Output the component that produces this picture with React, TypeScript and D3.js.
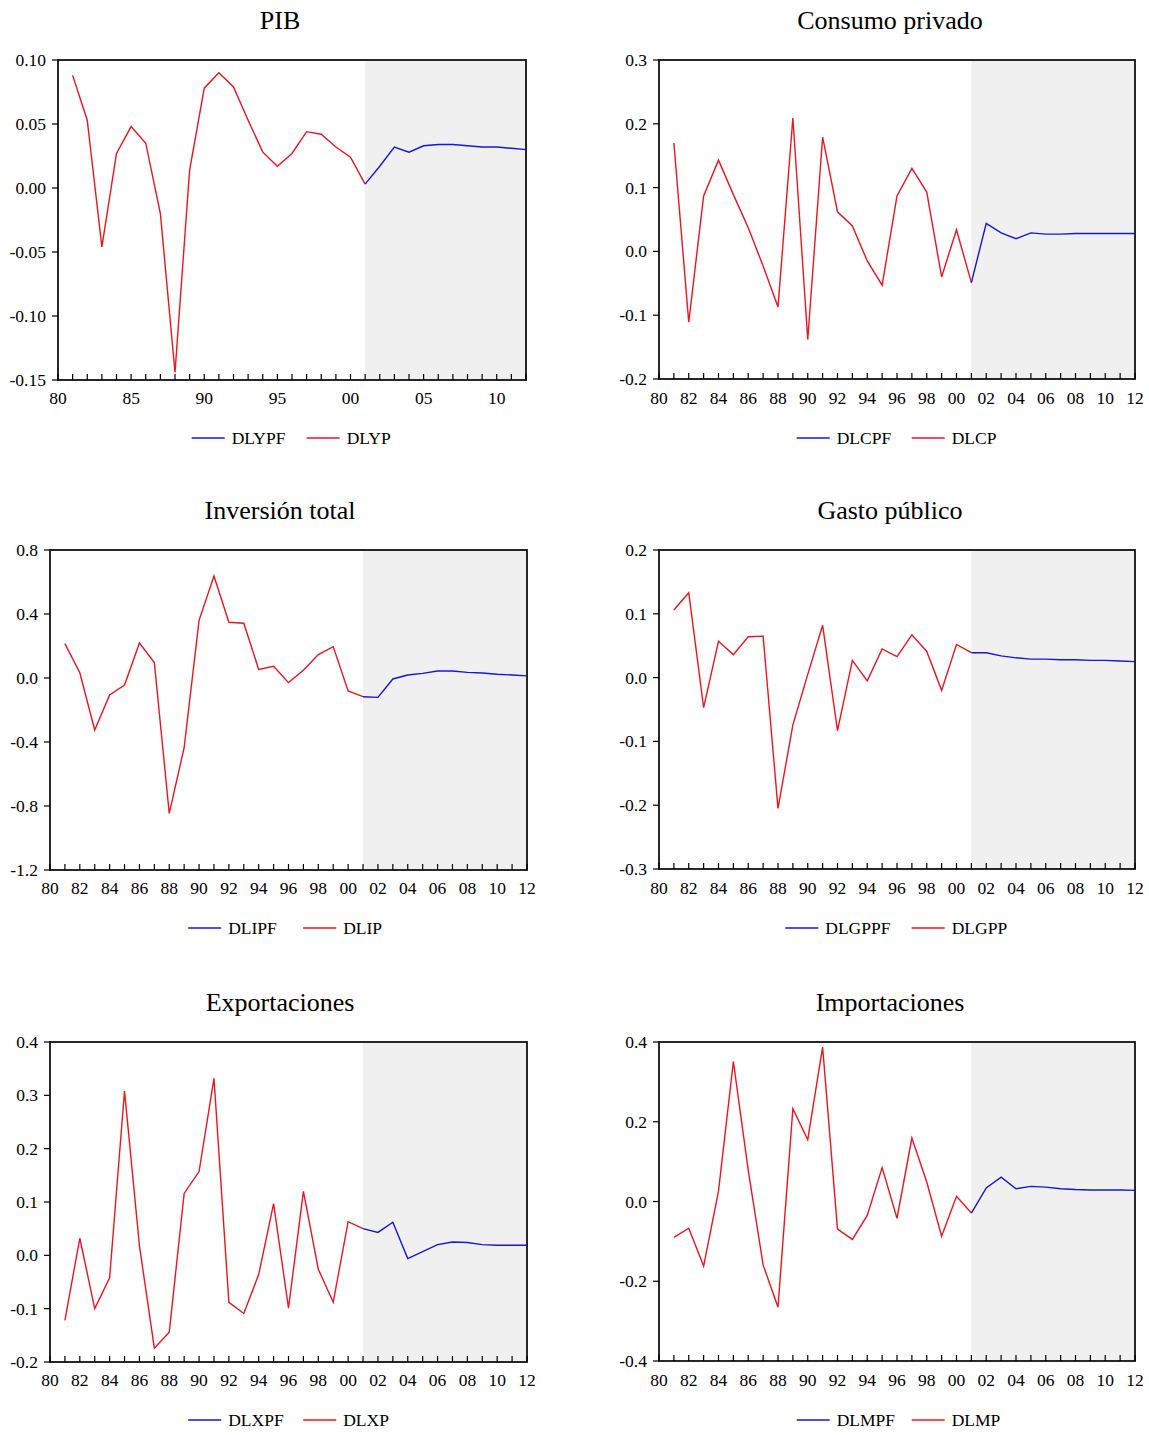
import * as d3 from 'd3';

// years
const histYears = d3.range(1981, 2002); // 1981..2001
const fcstYears = d3.range(2001, 2013); // 2001..2012

// PIB
const dlyp = [0.088, 0.053, -0.046, 0.027, 0.048, 0.035, -0.02, -0.144, 0.014, 0.078, 0.09, 0.079, 0.053, 0.028, 0.017, 0.027, 0.044, 0.042, 0.032, 0.024, 0.003];
const dlypf = [0.003, 0.017, 0.032, 0.028, 0.033, 0.034, 0.034, 0.033, 0.032, 0.032, 0.031, 0.03];

// Consumo privado
const dlcp = [0.17, -0.111, 0.087, 0.143, 0.089, 0.037, -0.023, -0.087, 0.209, -0.138, 0.179, 0.062, 0.04, -0.015, -0.053, 0.087, 0.13, 0.093, -0.04, 0.034, -0.049];
const dlcpf = [-0.049, 0.044, 0.029, 0.02, 0.029, 0.027, 0.027, 0.028, 0.028, 0.028, 0.028, 0.028];

// Inversion total
const dlip = [0.215, 0.033, -0.325, -0.106, -0.044, 0.219, 0.096, -0.846, -0.435, 0.36, 0.638, 0.348, 0.342, 0.054, 0.073, -0.029, 0.048, 0.146, 0.196, -0.081, -0.117];
const dlipf = [-0.117, -0.121, -0.006, 0.019, 0.029, 0.044, 0.044, 0.035, 0.031, 0.023, 0.019, 0.013];

// Gasto publico
const dlgpp = [0.106, 0.133, -0.047, 0.057, 0.036, 0.064, 0.065, -0.205, -0.074, 0.005, 0.082, -0.083, 0.027, -0.005, 0.045, 0.033, 0.067, 0.041, -0.02, 0.052, 0.039];
const dlgppf = [0.039, 0.039, 0.034, 0.031, 0.029, 0.029, 0.028, 0.028, 0.027, 0.027, 0.026, 0.025];

// Exportaciones
const dlxp = [-0.122, 0.032, -0.1, -0.042, 0.308, 0.018, -0.174, -0.144, 0.116, 0.157, 0.332, -0.088, -0.109, -0.036, 0.097, -0.099, 0.12, -0.026, -0.088, 0.063, 0.05];
const dlxpf = [0.05, 0.043, 0.062, -0.006, 0.007, 0.02, 0.025, 0.024, 0.02, 0.019, 0.019, 0.019];

// Importaciones
const dlmp = [-0.09, -0.067, -0.162, 0.026, 0.351, 0.078, -0.159, -0.265, 0.233, 0.155, 0.387, -0.069, -0.095, -0.035, 0.085, -0.042, 0.159, 0.049, -0.087, 0.013, -0.029];
const dlmpf = [-0.029, 0.034, 0.061, 0.032, 0.038, 0.036, 0.032, 0.03, 0.029, 0.029, 0.029, 0.028];

const yTicksPIB = [-0.15, -0.1, -0.05, 0, 0.05, 0.1];
const yTicksCP = [-0.2, -0.1, 0, 0.1, 0.2, 0.3];
const yTicksIP = [-1.2, -0.8, -0.4, 0, 0.4, 0.8];
const yTicksGP = [-0.3, -0.2, -0.1, 0, 0.1, 0.2];
const yTicksXP = [-0.2, -0.1, 0, 0.1, 0.2, 0.3, 0.4];
const yTicksMP = [-0.4, -0.2, 0, 0.2, 0.4];

const xLabels5 = d3.range(1980, 2011, 5);
const xLabels2 = d3.range(1980, 2013, 2);

const FONT = '"Liberation Serif", "Times New Roman", serif';
const RED = '#f0141e';
const BLUE = '#1414e6';

const panels = [
  { title: 'PIB', hist: dlyp, fcst: dlypf, fName: 'DLYPF', hName: 'DLYP', yTicks: yTicksPIB, dec: 2, xLabels: xLabels5, left: 58, top: 60, right: 526, bottom: 380, tx: 280 },
  { title: 'Consumo privado', hist: dlcp, fcst: dlcpf, fName: 'DLCPF', hName: 'DLCP', yTicks: yTicksCP, dec: 1, xLabels: xLabels2, left: 659, top: 60, right: 1135, bottom: 379, tx: 890 },
  { title: 'Inversión total', hist: dlip, fcst: dlipf, fName: 'DLIPF', hName: 'DLIP', yTicks: yTicksIP, dec: 1, xLabels: xLabels2, left: 50, top: 550, right: 527, bottom: 870, tx: 280 },
  { title: 'Gasto público', hist: dlgpp, fcst: dlgppf, fName: 'DLGPPF', hName: 'DLGPP', yTicks: yTicksGP, dec: 1, xLabels: xLabels2, left: 659, top: 550, right: 1135, bottom: 869, tx: 890 },
  { title: 'Exportaciones', hist: dlxp, fcst: dlxpf, fName: 'DLXPF', hName: 'DLXP', yTicks: yTicksXP, dec: 1, xLabels: xLabels2, left: 50, top: 1042, right: 527, bottom: 1362, tx: 280 },
  { title: 'Importaciones', hist: dlmp, fcst: dlmpf, fName: 'DLMPF', hName: 'DLMP', yTicks: yTicksMP, dec: 1, xLabels: xLabels2, left: 659, top: 1042, right: 1135, bottom: 1361, tx: 890 },
];

const fmtYear = (y: number) => String(y % 100).padStart(2, '0');

function Panel({ p }: { p: any }) {
  const x = d3.scaleLinear().domain([1980, 2012]).range([p.left, p.right]);
  const y = d3.scaleLinear().domain(d3.extent(p.yTicks) as [number, number]).range([p.bottom, p.top]);
  const line = d3.line<[number, number]>().x(d => x(d[0])).y(d => y(d[1]));
  const histPts = histYears.map((yr, i) => [yr, p.hist[i]] as [number, number]);
  const fcstPts = fcstYears.map((yr, i) => [yr, p.fcst[i]] as [number, number]);
  const cx = (p.left + p.right) / 2;
  const legY = p.top + 378;
  const labY = p.top + 338;
  // legend widths (approx text width)
  const fW = p.fName.length * 11.4;
  const hW = p.hName.length * 11.4;
  const total = 33 + 7 + fW + 18 + 33 + 7 + hW;
  const lx = cx - total / 2;

  return (
    <g>
      <text x={p.tx} y={p.top - 40} textAnchor="middle" dominantBaseline="central" fontSize={26} fontFamily={FONT}>{p.title}</text>
      <rect x={x(2001)} y={p.top} width={x(2012) - x(2001)} height={p.bottom - p.top} fill="#f0f0f0" />
      <path d={line(histPts) || ''} fill="none" stroke={RED} strokeWidth={1.4} />
      <path d={line(fcstPts) || ''} fill="none" stroke={BLUE} strokeWidth={1.4} />
      <rect x={p.left} y={p.top} width={p.right - p.left} height={p.bottom - p.top} fill="none" stroke="#111" strokeWidth={1.8} />
      {p.yTicks.map((t: number) => (
        <g key={t}>
          <line x1={p.left - 6} x2={p.left} y1={y(t)} y2={y(t)} stroke="#000" strokeWidth={1.2} />
          <text x={p.left - 12} y={y(t)} textAnchor="end" dominantBaseline="central" fontSize={17.5} fontFamily={FONT}>{t.toFixed(p.dec)}</text>
        </g>
      ))}
      {d3.range(1980, 2013).map(yr => (
        <line key={yr} x1={x(yr)} x2={x(yr)} y1={p.bottom} y2={p.bottom - 6} stroke="#000" strokeWidth={1.2} />
      ))}
      {p.xLabels.map((yr: number) => (
        <text key={yr} x={x(yr)} y={labY} textAnchor="middle" dominantBaseline="central" fontSize={17.5} fontFamily={FONT}>{fmtYear(yr)}</text>
      ))}
      <line x1={lx} x2={lx + 33} y1={legY} y2={legY} stroke={BLUE} strokeWidth={1.6} />
      <text x={lx + 40} y={legY} dominantBaseline="central" fontSize={17.5} fontFamily={FONT}>{p.fName}</text>
      <line x1={lx + 40 + fW + 18} x2={lx + 40 + fW + 51} y1={legY} y2={legY} stroke={RED} strokeWidth={1.6} />
      <text x={lx + 40 + fW + 58} y={legY} dominantBaseline="central" fontSize={17.5} fontFamily={FONT}>{p.hName}</text>
    </g>
  );
}

export default function App() {
  return (
    <svg width={1149} height={1435} style={{ position: 'absolute', left: 0, top: 0, background: '#fff' }}>
      <rect width={1149} height={1435} fill="#fff" />
      {panels.map(p => <Panel key={p.title} p={p} />)}
    </svg>
  );
}
